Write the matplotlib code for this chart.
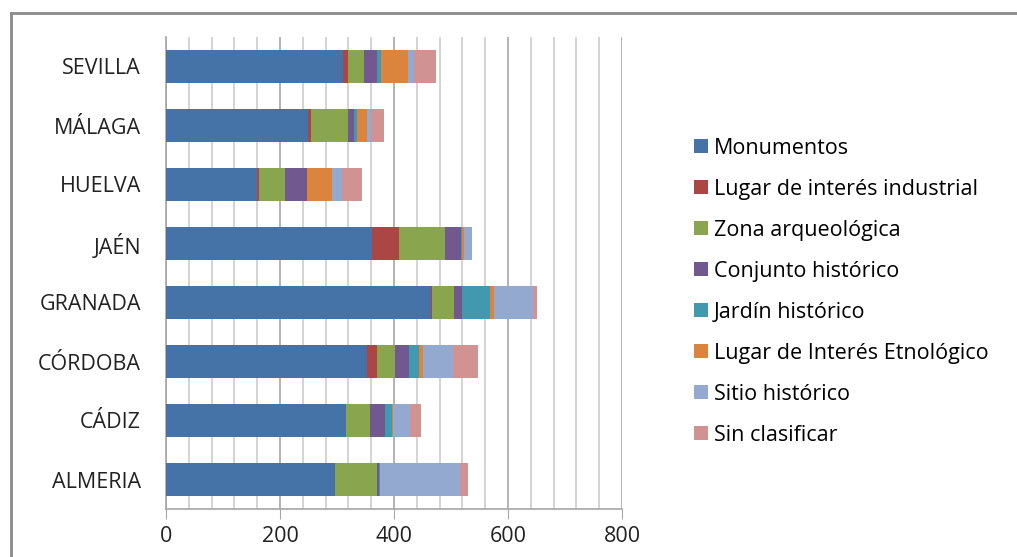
import matplotlib
matplotlib.use("Agg")
import matplotlib.pyplot as plt
import matplotlib.ticker as ticker
from matplotlib.lines import Line2D
import numpy as np

# provincias, de abajo arriba
provincias = ["ALMERIA", "CÁDIZ", "CÓRDOBA", "GRANADA", "JAÉN", "HUELVA", "MÁLAGA", "SEVILLA"]

categorias = [
    "Monumentos",
    "Lugar de interés industrial",
    "Zona arqueológica",
    "Conjunto histórico",
    "Jardín histórico",
    "Lugar de Interés Etnológico",
    "Sitio histórico",
    "Sin clasificar",
]

monumentos = [297, 315, 353, 465, 362, 159, 249, 311]
industrial = [0, 0, 18, 2, 46, 4, 6, 9]
arqueologica = [74, 43, 30, 38, 81, 45, 65, 28]
conjunto = [2, 27, 25, 15, 28, 39, 9, 23]
jardin = [3, 11, 18, 48, 2, 0, 6, 7]
etnologico = [0, 3, 7, 7, 4, 45, 18, 46]
sitio = [140, 29, 52, 68, 13, 16, 7, 11]
sin_clasificar = [13, 20, 45, 8, 0, 36, 22, 38]

colores = ["#4572A7", "#AA4643", "#89A54E", "#71588F",
           "#4198AF", "#DB843D", "#93A9CF", "#D19392"]

series = [monumentos, industrial, arqueologica, conjunto,
          jardin, etnologico, sitio, sin_clasificar]

FUENTE = ["Open Sans", "DejaVu Sans"]
plt.rcParams["font.family"] = FUENTE

W, H = 1017, 557
fig = plt.figure(figsize=(W / 100, H / 100), dpi=100)
ax = fig.add_axes([166 / W, 1 - 509 / H, (622 - 166) / W, (509 - 37) / H])

y = np.arange(len(provincias))
left = np.zeros(len(provincias))
for vals, nombre, col in zip(series, categorias, colores):
    ax.barh(y, vals, left=left, height=0.56, color=col, label=nombre, zorder=3)
    left += np.array(vals)

ax.set_xlim(0, 800)
ax.set_ylim(-0.5, len(provincias) - 0.5)
ax.set_yticks(y)
ax.set_yticklabels(provincias, fontsize=15.5, color="#222222")

ax.xaxis.set_major_locator(ticker.MultipleLocator(200))
ax.xaxis.set_minor_locator(ticker.MultipleLocator(40))
ax.grid(which="minor", axis="x", color="#cccccc", linewidth=1.2, zorder=0)
ax.grid(which="major", axis="x", color="#a6a6a6", linewidth=1.2, zorder=0)
ax.tick_params(axis="x", which="major", length=7, color="#a6a6a6", labelsize=15.5,
               labelcolor="#222222", pad=5)
ax.tick_params(axis="x", which="minor", length=0)
ax.tick_params(axis="y", length=0, pad=18)

for s in ["top", "right"]:
    ax.spines[s].set_visible(False)
for s in ["left", "bottom"]:
    ax.spines[s].set_color("#a6a6a6")
    ax.spines[s].set_linewidth(1.2)

# marco del gráfico (recortado)
fig.add_artist(Line2D([11 / W, 11 / W], [0, 1 - 13 / H], color="#8a8a8a", lw=2.0))
fig.add_artist(Line2D([11 / W, 1], [1 - 13 / H, 1 - 13 / H], color="#8a8a8a", lw=2.0))

handles, labels = ax.get_legend_handles_labels()
fig.legend(handles, labels, loc="upper left", bbox_to_anchor=(685 / W, 1 - 129 / H),
           frameon=False, handlelength=0.65, handleheight=0.65,
           handletextpad=0.3, labelspacing=0.93, borderaxespad=0,
           prop={"family": FUENTE, "size": 15.5})

fig.savefig("out.png", dpi=100)
